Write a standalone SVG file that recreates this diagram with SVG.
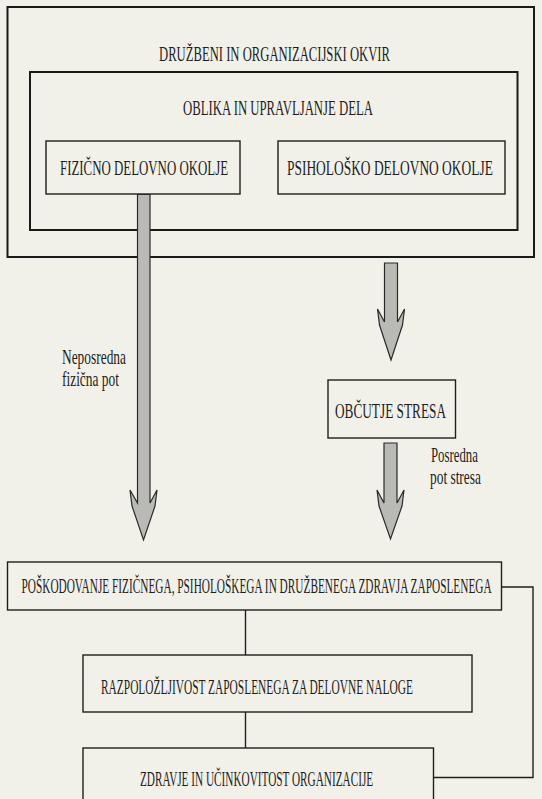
<svg xmlns="http://www.w3.org/2000/svg" width="542" height="799" viewBox="0 0 542 799">
<defs>
<style>
.bg{fill:#f2f1e9}
.box{fill:none;stroke:#1e1e1e;stroke-width:1.4}
.frame{fill:none;stroke:#1a1a1a;stroke-width:2}
.t{font-family:"Liberation Serif","Times New Roman",serif;font-size:21px;fill:#1e1e1e}
.s{font-family:"Liberation Serif","Times New Roman",serif;font-size:20px;fill:#1e1e1e}
.arrow{fill:#b9b9b6;stroke:#2a2a2a;stroke-width:1.2;stroke-linejoin:miter}
.line{fill:none;stroke:#1e1e1e;stroke-width:1.4}
</style>
</defs>
<rect class="bg" x="0" y="0" width="542" height="799"/>

<g id="okvir">
<rect class="frame" x="7.5" y="7" width="526.5" height="250"/>
<text class="t" transform="translate(159,61) scale(0.62,1)" textLength="372.6" lengthAdjust="spacingAndGlyphs">DRUŽBENI IN ORGANIZACIJSKI OKVIR</text>
</g>

<g id="oblika">
<rect class="frame" x="30" y="72" width="487.5" height="158"/>
<text class="t" transform="translate(183,115) scale(0.62,1)" textLength="306.5" lengthAdjust="spacingAndGlyphs">OBLIKA IN UPRAVLJANJE DELA</text>
</g>

<g id="fizicno">
<rect class="box" x="46" y="141" width="194" height="53"/>
<text class="t" transform="translate(60,175) scale(0.62,1)" textLength="271" lengthAdjust="spacingAndGlyphs">FIZIČNO DELOVNO OKOLJE</text>
</g>

<g id="psiholosko">
<rect class="box" x="278" y="141" width="227" height="53"/>
<text class="t" transform="translate(287,175) scale(0.62,1)" textLength="332" lengthAdjust="spacingAndGlyphs">PSIHOLOŠKO DELOVNO OKOLJE</text>
</g>

<g id="stres">
<rect class="box" x="328" y="380" width="127.5" height="58"/>
<text class="t" transform="translate(335,418) scale(0.62,1)" textLength="179" lengthAdjust="spacingAndGlyphs">OBČUTJE STRESA</text>
</g>

<g id="poskodovanje">
<rect class="box" x="7.5" y="562" width="494" height="48"/>
<text class="t" transform="translate(21.5,593) scale(0.533,1)" textLength="882" lengthAdjust="spacingAndGlyphs">POŠKODOVANJE FIZIČNEGA, PSIHOLOŠKEGA IN DRUŽBENEGA ZDRAVJA ZAPOSLENEGA</text>
</g>

<g id="razpolozljivost">
<rect class="box" x="83" y="655" width="389" height="57"/>
<text class="t" transform="translate(101,694) scale(0.62,1)" textLength="503" lengthAdjust="spacingAndGlyphs">RAZPOLOŽLJIVOST ZAPOSLENEGA ZA DELOVNE NALOGE</text>
</g>

<g id="zdravje">
<rect class="box" x="83" y="748" width="350.5" height="70"/>
<text class="t" transform="translate(140,786) scale(0.62,1)" textLength="376" lengthAdjust="spacingAndGlyphs">ZDRAVJE IN UČINKOVITOST ORGANIZACIJE</text>
</g>

<g id="connectors">
<polygon class="arrow" points="137.5,194.5 137.5,503 130,490 132,506 143.5,540 155,506 157,490 150,503 150,194.5"/>
<polygon class="arrow" points="384.5,263 384.5,322 377.5,309 379.5,325 391,360 402.5,325 404.5,309 397.5,322 397.5,263"/>
<polygon class="arrow" points="384,443 384,503 377,490 379,506 390.5,539 402,506 404,490 397,503 397,443"/>
<line class="line" x1="245.5" y1="610" x2="245.5" y2="655"/>
<line class="line" x1="245.5" y1="712" x2="245.5" y2="748"/>
<polyline class="line" points="501.5,587 533,587 533,777.5 433.5,777.5"/>
<text class="s" transform="translate(62,364) scale(0.67,1)" textLength="95.5" lengthAdjust="spacingAndGlyphs">Neposredna</text>
<text class="s" transform="translate(62,386) scale(0.67,1)" textLength="85" lengthAdjust="spacingAndGlyphs">fizična pot</text>
<text class="s" transform="translate(431,462) scale(0.67,1)" textLength="70" lengthAdjust="spacingAndGlyphs">Posredna</text>
<text class="s" transform="translate(430,484) scale(0.67,1)" textLength="76" lengthAdjust="spacingAndGlyphs">pot stresa</text>
</g>
</svg>
